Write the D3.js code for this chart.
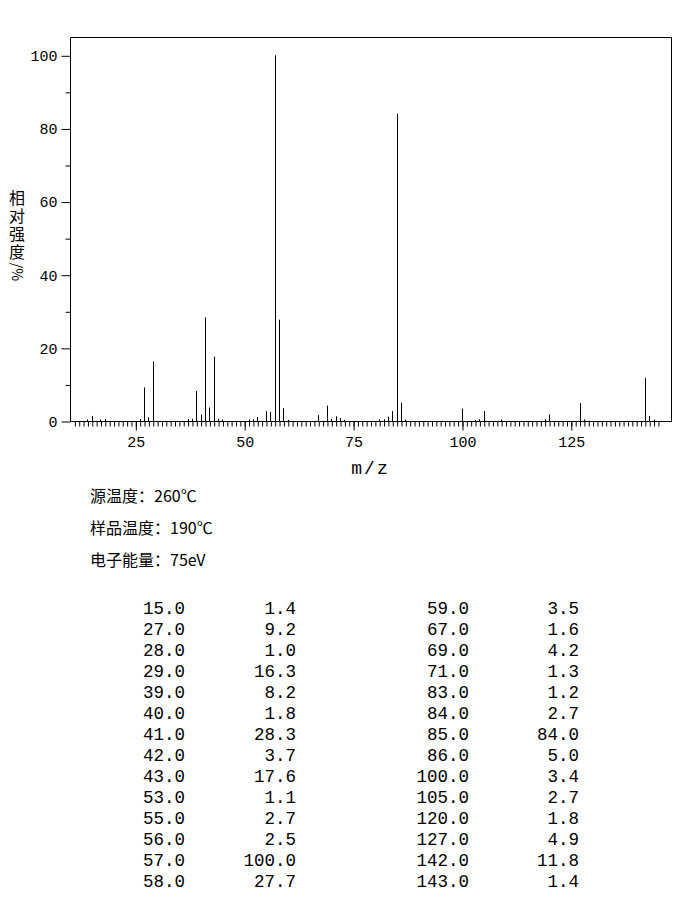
<!DOCTYPE html>
<html>
<head>
<meta charset="utf-8">
<script src="https://cdn.jsdelivr.net/npm/d3@7/dist/d3.min.js"></script>
<style>
  body { margin: 0; background: #fff; }
  svg text { fill: #000; }
  .num { font-family: "Liberation Mono", "DejaVu Sans Mono", monospace; }
  .cjk { font-family: "Noto Sans CJK SC", "DejaVu Sans", sans-serif; }
</style>
</head>
<body>
<div id="chart"></div>
<script>
// peaks listed in the table (m/z, relative intensity %)
var tableMz  = [15, 27, 28, 29, 39, 40, 41, 42, 43, 53, 55, 56, 57, 58,
                59, 67, 69, 71, 83, 84, 85, 86, 100, 105, 120, 127, 142, 143];
var tableInt = [1.4, 9.2, 1.0, 16.3, 8.2, 1.8, 28.3, 3.7, 17.6, 1.1, 2.7, 2.5, 100.0, 27.7,
                3.5, 1.6, 4.2, 1.3, 1.2, 2.7, 84.0, 5.0, 3.4, 2.7, 1.8, 4.9, 11.8, 1.4];

// small peaks drawn in the spectrum but not listed
var minorMz  = [14, 17, 18, 26, 37, 38, 44, 45, 51, 52, 60, 70, 72, 73, 81, 82, 87, 103, 104, 109, 119, 128, 144];
var minorInt = [0.4, 0.4, 0.5, 0.6, 0.5, 0.6, 0.6, 0.4, 0.4, 0.5, 0.3, 0.6, 0.8, 0.3, 0.4, 0.5, 0.4, 0.3, 0.5, 0.4, 0.5, 0.4, 0.4];

var xTicks = [25, 50, 75, 100, 125];
var yTicks = [0, 20, 40, 60, 80, 100];
var yMinor = [10, 30, 50, 70, 90];

var conditions = ["源温度：260℃", "样品温度：190℃", "电子能量：75eV"];
var yTitle = "相对强度";
var yUnit = "/%";

var w = 696, h = 907;
var plotL = 70, plotR = 671, plotT = 37, plotB = 421;

var svg = d3.select("#chart")
    .append("svg")
    .attr("width", w)
    .attr("height", h);

var x = d3.scaleLinear().domain([10, 148]).range([plotL, plotR]);
var y = d3.scaleLinear().domain([0, 105]).range([plotB, plotT]);

// spectrum bars
var peaks = tableMz.map(function(m, i) { return {mz: m, v: tableInt[i]}; })
    .concat(minorMz.map(function(m, i) { return {mz: m, v: minorInt[i]}; }));

svg.append("g").selectAll("line")
    .data(peaks)
    .enter().append("line")
    .attr("x1", function(d) { return Math.round(x(d.mz)) + 0.5; })
    .attr("x2", function(d) { return Math.round(x(d.mz)) + 0.5; })
    .attr("y1", y(0))
    .attr("y2", function(d) { return y(d.v); })
    .attr("stroke", "#000")
    .attr("stroke-width", 1);

// frame
svg.append("path")
    .attr("d", "M" + (plotL + 0.5) + "," + (plotB + 0.5) + "V" + (plotT + 0.5) +
               "H" + (plotR + 0.5) + "V" + (plotB + 0.5) + "H" + (plotL + 0.5))
    .attr("fill", "none")
    .attr("stroke", "#000");

function styleAxis(g) {
    g.select(".domain").remove();
    g.selectAll(".tick line").attr("stroke", "#000");
    g.selectAll(".tick text")
        .attr("class", "num")
        .style("font-size", "15px")
        .attr("fill", "#000");
}

// x axis: minor every unit, labelled every 25
svg.append("g")
    .attr("transform", "translate(0.5," + (plotB + 0.5) + ")")
    .call(d3.axisBottom(x).tickValues(d3.range(11, 146)).tickSize(5).tickFormat(""))
    .call(styleAxis);

svg.append("g")
    .attr("transform", "translate(0.5," + (plotB + 0.5) + ")")
    .call(d3.axisBottom(x).tickValues(xTicks).tickSize(9).tickPadding(6).tickFormat(d3.format("d")))
    .call(styleAxis);

// y axis
svg.append("g")
    .attr("transform", "translate(" + (plotL + 0.5) + ",0.5)")
    .call(d3.axisLeft(y).tickValues(yMinor).tickSize(5).tickFormat(""))
    .call(styleAxis);

svg.append("g")
    .attr("transform", "translate(" + (plotL + 0.5) + ",0.5)")
    .call(d3.axisLeft(y).tickValues(yTicks).tickSize(9).tickPadding(4).tickFormat(d3.format("d")))
    .call(styleAxis);

// axis titles
svg.append("text")
    .attr("class", "num")
    .attr("x", (plotL + plotR) / 2)
    .attr("y", 474)
    .attr("text-anchor", "middle")
    .style("font-size", "18px")
    .style("letter-spacing", "2px")
    .text("m/z");

// y title written top to bottom, unit turned sideways below it
svg.append("text")
    .attr("class", "cjk")
    .attr("x", 17)
    .attr("y", 190)
    .style("writing-mode", "vertical-rl")
    .style("font-size", "16px")
    .style("letter-spacing", "2px")
    .text(yTitle);
svg.append("text")
    .attr("class", "cjk")
    .attr("transform", "translate(17,272) rotate(90)")
    .attr("dy", "0.35em")
    .attr("text-anchor", "middle")
    .style("font-size", "14px")
    .text(yUnit);

// conditions
svg.append("g").selectAll("text")
    .data(conditions)
    .enter().append("text")
    .attr("class", "cjk")
    .attr("x", 90)
    .attr("y", function(d, i) { return 496 + i * 32; })
    .attr("dy", "0.35em")
    .style("font-size", "16px")
    .text(function(d) { return d; });

// peak table, two column pairs
var half = Math.ceil(tableMz.length / 2);
var colRight = [185, 296, 469, 579];
var tbl = svg.append("g").attr("class", "num").style("font-size", "17.5px");
tableMz.forEach(function(m, i) {
    var pair = i < half ? 0 : 1;
    var row = i % half;
    var yy = 608 + row * 21;
    tbl.append("text")
        .attr("x", colRight[pair * 2])
        .attr("y", yy).attr("dy", "0.35em")
        .attr("text-anchor", "end")
        .text(m.toFixed(1));
    tbl.append("text")
        .attr("x", colRight[pair * 2 + 1])
        .attr("y", yy).attr("dy", "0.35em")
        .attr("text-anchor", "end")
        .text(tableInt[i].toFixed(1));
});
</script>
</body>
</html>
